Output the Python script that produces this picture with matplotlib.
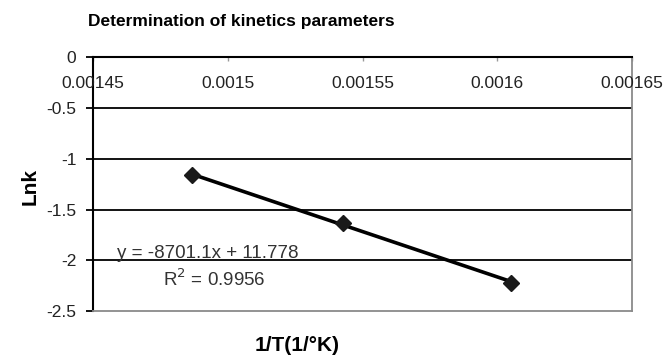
import matplotlib
matplotlib.use("Agg")
import matplotlib.pyplot as plt
import numpy as np

plt.rcParams["font.family"] = ["Liberation Sans", "DejaVu Sans"]

# data
inv_T = [0.0014867, 0.0015428, 0.0016051]
lnk = [-1.163, -1.630, -2.220]
x_ticks = [0.00145, 0.0015, 0.00155, 0.0016, 0.00165]
x_labels = ["0.00145", "0.0015", "0.00155", "0.0016", "0.00165"]
y_ticks = [0, -0.5, -1, -1.5, -2, -2.5]
y_labels = ["0", "-0.5", "-1", "-1.5", "-2", "-2.5"]
eq_text = "y = -8701.1x + 11.778"
r2_text = "R$^2$ = 0.9956"

fig = plt.figure(figsize=(6.69, 3.58), dpi=100)
ax = fig.add_axes([0.139, 0.131, 0.806, 0.709])

ax.set_xlim(x_ticks[0], x_ticks[-1])
ax.set_ylim(-2.5, 0)

# gridlines
for y in y_ticks[1:-1]:
    ax.axhline(y, color="black", lw=1.3, zorder=1)

# trendline over data range
coef = np.polyfit(inv_T, lnk, 1)
xs = np.array([min(inv_T), max(inv_T)])
ax.plot(xs, np.polyval(coef, xs), color="black", lw=2.6, zorder=3)
ax.plot(inv_T, lnk, "D", color="#1a1a1a", ms=8, zorder=4)

# spines: x axis crosses at 0 (top)
ax.spines["top"].set_color("black")
ax.spines["top"].set_linewidth(1.5)
ax.spines["left"].set_color("black")
ax.spines["left"].set_linewidth(1.5)
ax.spines["right"].set_color("#8a8a8a")
ax.spines["bottom"].set_color("#8a8a8a")
ax.spines["right"].set_linewidth(1.3)
ax.spines["bottom"].set_linewidth(1.3)

ax.set_yticks(y_ticks)
ax.set_yticklabels(y_labels, fontsize=12.5, color="#222222")
ax.tick_params(axis="y", direction="out", length=5, width=1.3, pad=7)

ax.set_xticks(x_ticks)
ax.set_xticklabels([])
ax.tick_params(axis="x", bottom=False, top=True, direction="in",
               length=3, width=1, color="#999999")
for xv, lab in zip(x_ticks, x_labels):
    ax.text(xv, -0.255, lab, ha="center", va="center", fontsize=12.5,
            color="#222222")

ax.text(0.0014589, -2.02, eq_text, ha="left", va="bottom", fontsize=13.5,
        color="#333333")
ax.text(0.001476, -2.19, r2_text, ha="left", va="center", fontsize=13.5,
        color="#333333")

fig.text(0.132, 0.941, "Determination of kinetics parameters",
         fontsize=12.5, fontweight="bold", ha="left", va="center")
fig.text(0.045, 0.48, "Lnk", rotation=90, fontsize=15, fontweight="bold",
         ha="center", va="center")
fig.text(0.444, 0.035, "1/T(1/°K)", fontsize=15, fontweight="bold",
         ha="center", va="center")

fig.savefig("out.png", dpi=100)
